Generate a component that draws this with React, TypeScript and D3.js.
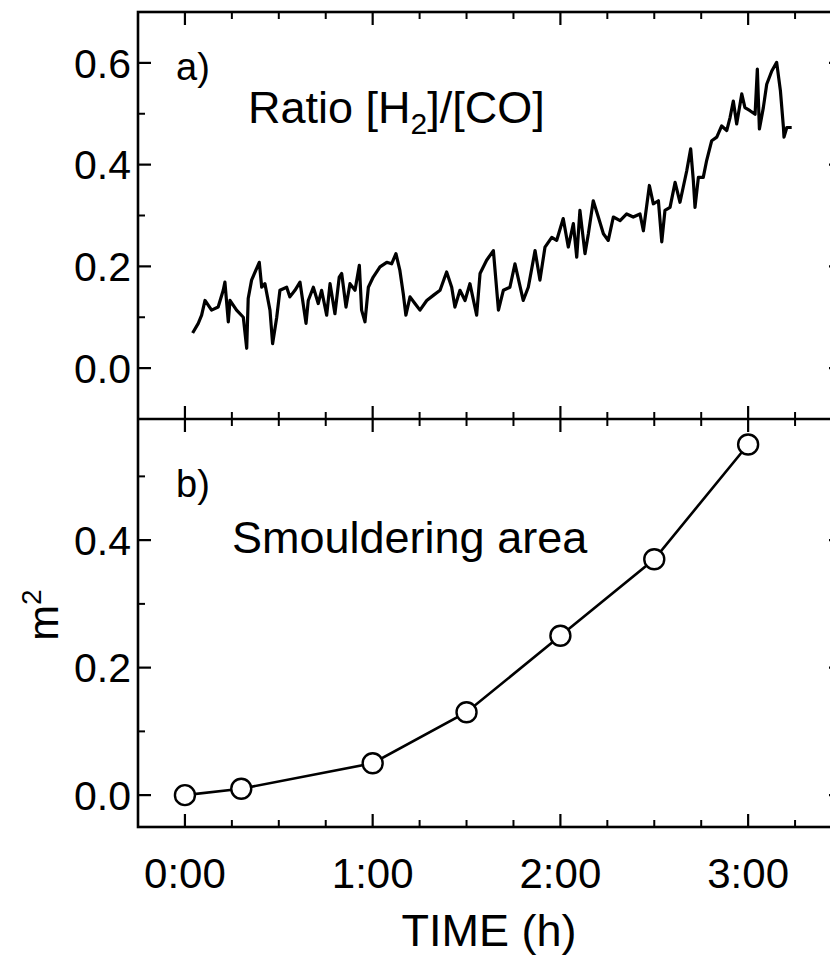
import React, { useEffect, useRef } from 'react';
import * as d3 from 'd3';

// panel a) ratio [H2]/[CO] vs time (hours)
const ratioTime = [
  0.041, 0.071, 0.089, 0.107, 0.142, 0.177, 0.204, 0.213, 0.231, 0.24,
  0.275, 0.311, 0.329, 0.337, 0.355, 0.396, 0.409, 0.426, 0.453, 0.467,
  0.489, 0.506, 0.542, 0.559, 0.586, 0.613, 0.645, 0.657, 0.684, 0.71,
  0.728, 0.755, 0.773, 0.799, 0.822, 0.835, 0.858, 0.879, 0.906, 0.929,
  0.941, 0.959, 0.977, 1.003, 1.039, 1.075, 1.101, 1.124, 1.145, 1.163,
  1.177, 1.199, 1.225, 1.252, 1.288, 1.323, 1.359, 1.394, 1.421, 1.438,
  1.465, 1.492, 1.518, 1.554, 1.572, 1.607, 1.643, 1.67, 1.696, 1.731,
  1.758, 1.802, 1.829, 1.865, 1.891, 1.918, 1.954, 1.98, 2.015, 2.042,
  2.069, 2.087, 2.104, 2.131, 2.149, 2.175, 2.202, 2.229, 2.255, 2.282,
  2.318, 2.353, 2.388, 2.424, 2.442, 2.474, 2.495, 2.522, 2.54, 2.557,
  2.584, 2.611, 2.637, 2.673, 2.694, 2.708, 2.717, 2.735, 2.761, 2.779,
  2.806, 2.833, 2.859, 2.886, 2.904, 2.921, 2.939, 2.966, 2.983, 3.01,
  3.037, 3.049, 3.06, 3.081, 3.099, 3.126, 3.152, 3.172, 3.188, 3.191,
  3.206, 3.232,
];
const ratioValue = [
  0.069, 0.088, 0.104, 0.133, 0.114, 0.12, 0.153, 0.169, 0.091, 0.133,
  0.114, 0.1, 0.039, 0.137, 0.173, 0.208, 0.159, 0.166, 0.114, 0.048,
  0.1, 0.153, 0.159, 0.14, 0.153, 0.169, 0.088, 0.133, 0.159, 0.127,
  0.153, 0.104, 0.166, 0.107, 0.179, 0.186, 0.12, 0.166, 0.153, 0.202,
  0.114, 0.091, 0.159, 0.179, 0.199, 0.208, 0.205, 0.225, 0.192, 0.146,
  0.104, 0.14, 0.127, 0.114, 0.133, 0.143, 0.153, 0.189, 0.159, 0.12,
  0.153, 0.133, 0.166, 0.104, 0.186, 0.212, 0.231, 0.114, 0.153, 0.159,
  0.205, 0.133, 0.159, 0.231, 0.173, 0.238, 0.257, 0.251, 0.294, 0.238,
  0.284, 0.218, 0.31, 0.225, 0.264, 0.329, 0.297, 0.264, 0.251, 0.297,
  0.29, 0.303, 0.297, 0.303, 0.27, 0.359, 0.323, 0.329, 0.248, 0.31,
  0.316, 0.365, 0.326, 0.388, 0.431, 0.369, 0.316, 0.375, 0.375, 0.408,
  0.447, 0.454, 0.476, 0.467, 0.493, 0.525, 0.48, 0.539, 0.512, 0.506,
  0.499, 0.588, 0.47, 0.512, 0.558, 0.584, 0.601, 0.545, 0.473, 0.454,
  0.473, 0.473,
];

// panel b) smouldering area (m2)
const areaTime = [0, 0.3, 1, 1.5, 2, 2.5, 3];
const areaValue = [0, 0.01, 0.05, 0.13, 0.25, 0.37, 0.55];

const timeTicks = [0, 1, 2, 3];
const timeLabels = ['0:00', '1:00', '2:00', '3:00'];
const ratioTicks = [0, 0.2, 0.4, 0.6];
const areaTicks = [0, 0.2, 0.4];

const FONT = '"Liberation Sans", Arial, Helvetica, sans-serif';

const App = () => {
  const svgRef = useRef(null);

  useEffect(() => {
    const svg = d3.select(svgRef.current);
    svg.selectAll('*').remove();

    const left = 138;
    const right = 842;
    const topA = 12;
    const midY = 419;
    const botB = 827;

    const x = d3.scaleLinear().domain([-0.25, 3.5]).range([left, right]);
    const yA = d3.scaleLinear().domain([-0.1, 0.7]).range([midY, topA]);
    const yB = d3.scaleLinear().domain([-0.05, 0.59]).range([botB, midY]);

    const g = svg.append('g').attr('stroke', '#000').attr('fill', 'none');

    // frame + divider
    g.append('rect')
      .attr('x', left)
      .attr('y', topA)
      .attr('width', right - left)
      .attr('height', botB - topA)
      .attr('stroke-width', 2.6);
    g.append('line')
      .attr('x1', left)
      .attr('x2', right)
      .attr('y1', midY)
      .attr('y2', midY)
      .attr('stroke-width', 2.6);

    const MAJ = 13;
    const MIN = 7;

    // time ticks on horizontal edges (all pointing inward)
    const xMinor = d3.range(-0.25, 3.51, 0.25).filter(
      t => t > -0.2 && t < 3.45 && !timeTicks.includes(Math.round(t * 100) / 100)
    );
    const hEdges = [
      { y: topA, dir: 1 },
      { y: midY, dir: -1 },
      { y: midY, dir: 1 },
      { y: botB, dir: -1 },
    ];
    hEdges.forEach(({ y, dir }) => {
      timeTicks.forEach(t => {
        g.append('line')
          .attr('x1', x(t)).attr('x2', x(t))
          .attr('y1', y).attr('y2', y + dir * MAJ)
          .attr('stroke-width', 2.2);
      });
      xMinor.forEach(t => {
        g.append('line')
          .attr('x1', x(t)).attr('x2', x(t))
          .attr('y1', y).attr('y2', y + dir * MIN)
          .attr('stroke-width', 2);
      });
    });

    // value ticks on vertical edges
    const vTicks = (scale, major, minor) => {
      [{ xx: left, dir: 1 }, { xx: right, dir: -1 }].forEach(({ xx, dir }) => {
        major.forEach(v => {
          g.append('line')
            .attr('x1', xx).attr('x2', xx + dir * MAJ)
            .attr('y1', scale(v)).attr('y2', scale(v))
            .attr('stroke-width', 2.2);
        });
        minor.forEach(v => {
          g.append('line')
            .attr('x1', xx).attr('x2', xx + dir * MIN)
            .attr('y1', scale(v)).attr('y2', scale(v))
            .attr('stroke-width', 2);
        });
      });
    };
    vTicks(yA, ratioTicks, [0.1, 0.3, 0.5]);
    vTicks(yB, areaTicks, [0.1, 0.3, 0.5]);

    const txt = svg
      .append('g')
      .attr('font-family', FONT)
      .attr('fill', '#000');

    ratioTicks.forEach(v => {
      txt.append('text')
        .attr('x', left - 7)
        .attr('y', yA(v))
        .attr('dy', '0.36em')
        .attr('text-anchor', 'end')
        .attr('font-size', 41)
        .text(d3.format('.1f')(v));
    });
    areaTicks.forEach(v => {
      txt.append('text')
        .attr('x', left - 7)
        .attr('y', yB(v))
        .attr('dy', '0.36em')
        .attr('text-anchor', 'end')
        .attr('font-size', 41)
        .text(d3.format('.1f')(v));
    });
    timeTicks.forEach((t, i) => {
      txt.append('text')
        .attr('x', x(t))
        .attr('y', 888)
        .attr('text-anchor', 'middle')
        .attr('font-size', 42)
        .text(timeLabels[i]);
    });

    txt.append('text')
      .attr('x', 489)
      .attr('y', 946)
      .attr('text-anchor', 'middle')
      .attr('font-size', 45)
      .text('TIME (h)');

    const yl = txt.append('text')
      .attr('transform', `translate(58, ${(midY + botB) / 2 - 8}) rotate(-90)`)
      .attr('text-anchor', 'middle')
      .attr('font-size', 43);
    yl.append('tspan').text('m');
    yl.append('tspan').attr('font-size', 28).attr('dy', -17).text('2');

    // panel annotations
    txt.append('text').attr('x', 176).attr('y', 80).attr('font-size', 38).text('a)');
    const ra = txt.append('text').attr('x', 248).attr('y', 123).attr('font-size', 45);
    ra.append('tspan').text('Ratio [H');
    ra.append('tspan').attr('font-size', 30).attr('dy', 11).text('2');
    ra.append('tspan').attr('dy', -11).text(']/[CO]');

    txt.append('text').attr('x', 176).attr('y', 497).attr('font-size', 38).text('b)');
    txt.append('text').attr('x', 232).attr('y', 553).attr('font-size', 45).text('Smouldering area');

    // ratio trace
    const ratioData = ratioTime.map((t, i) => ({ t, v: ratioValue[i] }));
    svg.append('path')
      .datum(ratioData)
      .attr('fill', 'none')
      .attr('stroke', '#000')
      .attr('stroke-width', 3.2)
      .attr('stroke-linejoin', 'round')
      .attr('d', d3.line().x(d => x(d.t)).y(d => yA(d.v)));

    // area line + circles
    const areaData = areaTime.map((t, i) => ({ t, v: areaValue[i] }));
    svg.append('path')
      .datum(areaData)
      .attr('fill', 'none')
      .attr('stroke', '#000')
      .attr('stroke-width', 2.6)
      .attr('d', d3.line().x(d => x(d.t)).y(d => yB(d.v)));

    svg.selectAll('circle.pt')
      .data(areaData)
      .enter()
      .append('circle')
      .attr('class', 'pt')
      .attr('cx', d => x(d.t))
      .attr('cy', d => yB(d.v))
      .attr('r', 10)
      .attr('fill', '#fff')
      .attr('stroke', '#000')
      .attr('stroke-width', 2.4);
  }, []);

  return (
    <svg
      ref={svgRef}
      width={830}
      height={955}
      style={{ position: 'absolute', left: 0, top: 0, background: '#fff' }}
    />
  );
};

export default App;
